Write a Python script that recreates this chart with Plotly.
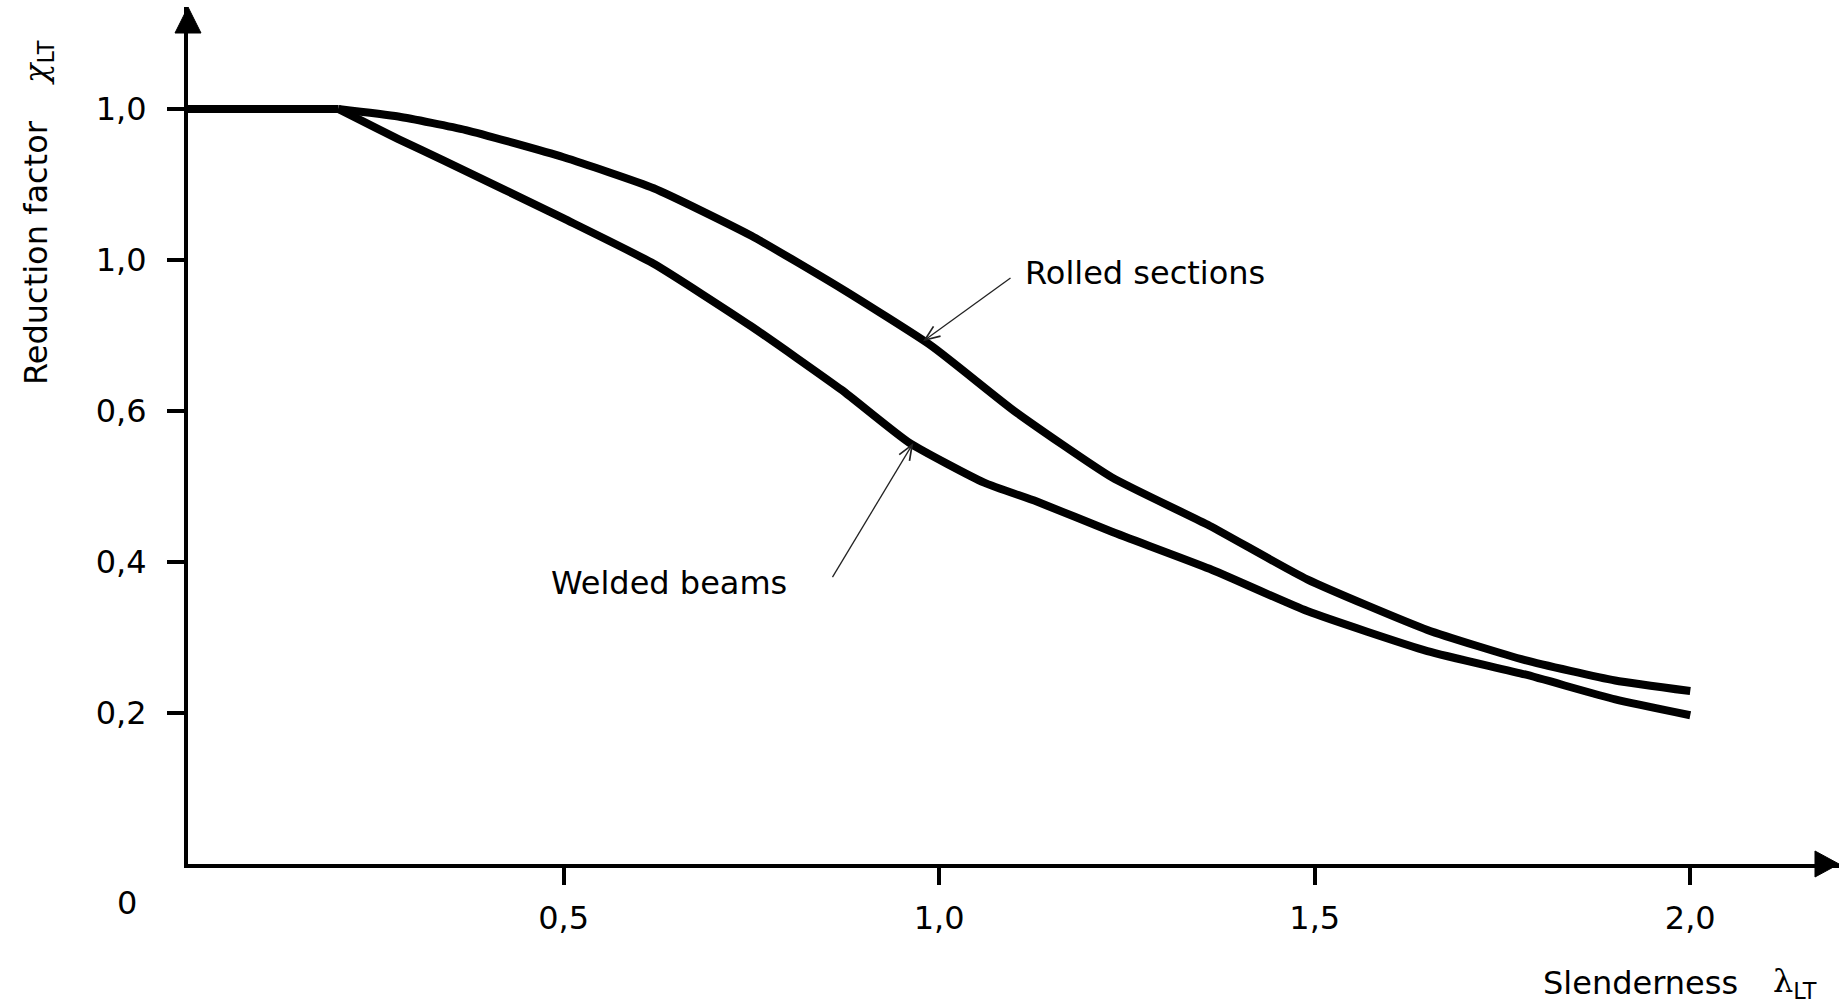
import math
import plotly.graph_objects as go

# Lateral-torsional buckling reduction factor vs. non-dimensional slenderness
slenderness_rolled = [0.0, 0.2, 0.28, 0.37, 0.5, 0.62, 0.75, 0.87, 0.99, 1.1, 1.23, 1.36, 1.49, 1.65, 1.78, 1.9, 2.0]
chi_rolled = [1.0, 1.0, 0.99, 0.972, 0.936, 0.895, 0.832, 0.762, 0.686, 0.60, 0.512, 0.448, 0.377, 0.310, 0.270, 0.243, 0.229]

slenderness_welded = [0.0, 0.2, 0.28, 0.34, 0.5, 0.62, 0.75, 0.87, 0.96, 1.06, 1.13, 1.23, 1.36, 1.49, 1.65, 1.78, 1.9, 2.0]
chi_welded = [1.0, 1.0, 0.96, 0.932, 0.855, 0.795, 0.712, 0.628, 0.558, 0.505, 0.48, 0.44, 0.391, 0.335, 0.282, 0.251, 0.218, 0.197]

x_tick_vals = [0.5, 1.0, 1.5, 2.0]
x_tick_text = ["0,5", "1,0", "1,5", "2,0"]
y_tick_vals = [0.2, 0.4, 0.6, 0.8, 1.0]
y_tick_text = ["0,2", "0,4", "0,6", "1,0", "1,0"]

W, H = 1839, 1005
ML, MR, MT, MB = 188, 0, 7, 141
X_MAX = 2.198
Y_MAX = 1.135

FONT = "DejaVu Sans"
SERIF = "DejaVu Serif"
INK = "#000000"
FS = 32


def px_x(p):
    return (p - ML) / (W - ML - MR)


def px_y(p):
    return (H - MB - p) / (H - MB - MT)


def data_to_px(x, y):
    return (ML + x / X_MAX * (W - ML - MR), H - MB - y / Y_MAX * (H - MB - MT))


def paper_path(points, close=False):
    parts = []
    for i, (px, py) in enumerate(points):
        parts.append(("M" if i == 0 else "L") + f"{px_x(px):.5f},{px_y(py):.5f}")
    return " ".join(parts) + (" Z" if close else "")


def pointer_shapes(tip, tail, head_len=15, half_w=6, color="#222222", width=1.3):
    """Thin leader line in data space with an open chevron at its tip."""
    tx, ty = data_to_px(*tip)
    sx, sy = data_to_px(*tail)
    dx, dy = tx - sx, ty - sy
    n = math.hypot(dx, dy)
    ux, uy = dx / n, dy / n
    nx, ny = -uy, ux
    bx, by = tx - head_len * ux, ty - head_len * uy
    chevron = [(bx + half_w * nx, by + half_w * ny), (tx, ty), (bx - half_w * nx, by - half_w * ny)]
    return [
        dict(type="line", xref="x", yref="y", x0=tail[0], y0=tail[1], x1=tip[0], y1=tip[1],
             line=dict(color=color, width=width)),
        dict(type="path", xref="paper", yref="paper", path=paper_path(chevron),
             line=dict(color=color, width=width + 0.4)),
    ]


fig = go.Figure()

# flat plateau up to the limiting slenderness, then the smooth falling branch
for xs, ys, name in [
    (slenderness_rolled, chi_rolled, "Rolled sections"),
    (slenderness_welded, chi_welded, "Welded beams"),
]:
    fig.add_trace(go.Scatter(
        x=xs[:2], y=ys[:2], mode="lines", name=name, hoverinfo="skip",
        line=dict(color=INK, width=8), cliponaxis=False,
    ))
    fig.add_trace(go.Scatter(
        x=xs[1:], y=ys[1:], mode="lines", name=name,
        line=dict(color=INK, width=8, shape="spline", smoothing=0.5),
        cliponaxis=False,
    ))

shapes = [
    # arrow heads on both axes
    dict(type="path", xref="paper", yref="paper",
         path=paper_path([(175, 33), (188, 7), (201, 33)], close=True),
         fillcolor=INK, line=dict(color=INK, width=1)),
    dict(type="path", xref="paper", yref="paper",
         path=paper_path([(1815, 851), (1839, 864), (1815, 877)], close=True),
         fillcolor=INK, line=dict(color=INK, width=1)),
]
shapes += pointer_shapes(tip=(0.981, 0.694), tail=(1.095, 0.776))
shapes += pointer_shapes(tip=(0.964, 0.555), tail=(0.858, 0.380))

text_font = dict(family=FONT, size=FS, color=INK)

annotations = [
    dict(x=px_x(1023), y=px_y(273), xref="paper", yref="paper", text="Rolled sections",
         showarrow=False, xanchor="left", yanchor="middle", font=text_font),
    dict(x=px_x(549), y=px_y(583), xref="paper", yref="paper", text="Welded beams",
         showarrow=False, xanchor="left", yanchor="middle", font=text_font),
    dict(x=px_x(127), y=px_y(903), xref="paper", yref="paper", text="0",
         showarrow=False, xanchor="center", yanchor="middle", font=text_font),
    dict(x=px_x(36), y=px_y(253), xref="paper", yref="paper", text="Reduction factor",
         showarrow=False, textangle=-90, xanchor="center", yanchor="middle", font=text_font),
    dict(x=px_x(38), y=px_y(63), xref="paper", yref="paper",
         text=f"<span style='font-family:{SERIF}'><i>χ</i></span><sub>LT</sub>",
         showarrow=False, textangle=-90, xanchor="center", yanchor="middle", font=text_font),
    dict(x=px_x(1541), y=px_y(983), xref="paper", yref="paper", text="Slenderness",
         showarrow=False, xanchor="left", yanchor="middle", font=text_font),
    dict(x=px_x(1771), y=px_y(983), xref="paper", yref="paper",
         text=f"<span style='font-family:{SERIF}'>λ</span><sub>LT</sub>",
         showarrow=False, xanchor="left", yanchor="middle", font=text_font),
]

fig.update_layout(
    width=W, height=H,
    margin=dict(l=ML, r=MR, t=MT, b=MB, pad=0),
    paper_bgcolor="white", plot_bgcolor="white",
    showlegend=False,
    shapes=shapes,
    annotations=annotations,
    font=text_font,
)

fig.update_xaxes(
    range=[0, X_MAX], showgrid=False, zeroline=False,
    showline=True, linewidth=4, linecolor=INK,
    tickmode="array", tickvals=x_tick_vals, ticktext=x_tick_text,
    ticks="outside", ticklen=17, tickwidth=4, tickcolor=INK,
    ticklabelstandoff=6,
    tickfont=text_font,
)
fig.update_yaxes(
    range=[0, Y_MAX], showgrid=False, zeroline=False,
    showline=True, linewidth=4, linecolor=INK,
    tickmode="array", tickvals=y_tick_vals, ticktext=y_tick_text,
    ticks="outside", ticklen=17, tickwidth=4, tickcolor=INK,
    ticklabelstandoff=14,
    tickfont=text_font,
)

fig.write_html("out.html")
